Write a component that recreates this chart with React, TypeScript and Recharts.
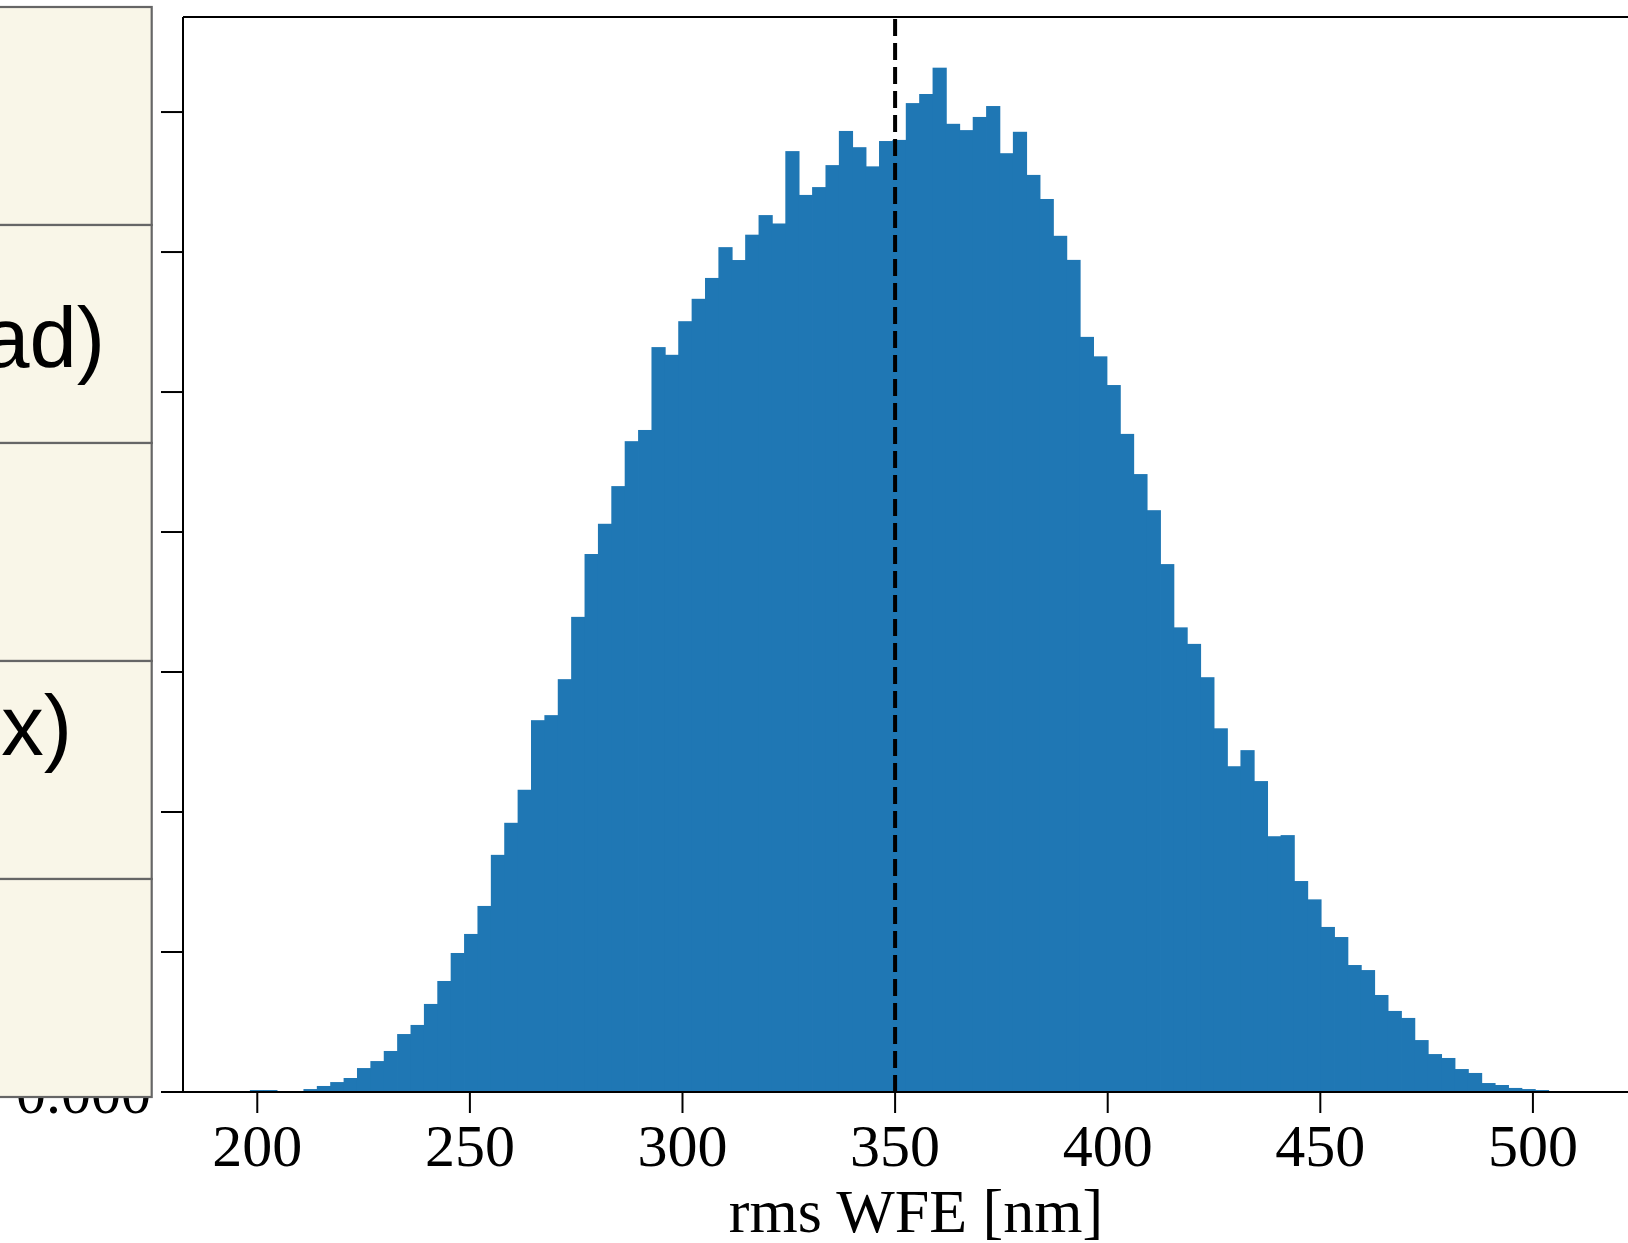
import { ComposedChart, Bar, XAxis, YAxis, ReferenceLine } from "recharts";

// Histogram of rms wavefront error, fixed-width bins
const BIN_START = 198.28; // nm, left edge of first bin
const BIN_WIDTH = 3.148; // nm

// probability density per bin, in units of 1e-3 per nm
const binDensity = [
  0.014, 0.014, 0, 0, 0.021, 0.043, 0.071, 0.1, 0.171, 0.221,
  0.293, 0.414, 0.479, 0.629, 0.793, 0.993, 1.129, 1.329, 1.694, 1.923,
  2.159, 2.656, 2.692, 2.949, 3.394, 3.843, 4.059, 4.328, 4.649, 4.729,
  5.321, 5.266, 5.506, 5.666, 5.815, 6.035, 5.943, 6.124, 6.264, 6.204,
  6.721, 6.408, 6.464, 6.621, 6.865, 6.749, 6.612, 6.793, 6.801, 7.064,
  7.129, 7.317, 6.916, 6.871, 6.965, 7.043, 6.706, 6.859, 6.551, 6.379,
  6.116, 5.944, 5.394, 5.255, 5.05, 4.701, 4.414, 4.156, 3.771, 3.319,
  3.201, 2.963, 2.598, 2.327, 2.442, 2.221, 1.827, 1.835, 1.507, 1.376,
  1.179, 1.107, 0.907, 0.871, 0.693, 0.579, 0.529, 0.371, 0.271, 0.243,
  0.164, 0.136, 0.064, 0.05, 0.029, 0.021, 0.014,
];

const xTicks = [200, 250, 300, 350, 400, 450, 500];
const yTicks = [0, 0.001, 0.002, 0.003, 0.004, 0.005, 0.006, 0.007];
const X_DOMAIN: [number, number] = [182.53, 527.3];
const Y_DOMAIN: [number, number] = [0, 0.007679];
const MEDIAN_WFE = 350;

// the side table: one label per row (only the tail ends are on the page)
const tableRows = ["", "ad)", "", "x)", ""];
const rowLabelPos = [null, { x: 105, y: 367 }, null, { x: 72, y: 755 }, null];

const CHART_W = 1650;
const CHART_H = 1243;
const PLOT = { left: 183, top: 17, right: 1649, bottom: 1092 };

const BLUE = "#1f77b4";
const SERIF = "'Liberation Serif', 'DejaVu Serif', serif";
const SANS = "'Liberation Sans', Arial, sans-serif";

const histData = binDensity.map((d, i) => ({
  x: BIN_START + (i + 0.5) * BIN_WIDTH,
  density: d / 1000,
}));

const pxPerNm = (PLOT.right - PLOT.left) / (X_DOMAIN[1] - X_DOMAIN[0]);
const barSize = BIN_WIDTH * pxPerNm;

// bars share edges, so widen each one a touch to hide the seams
const HistBar = (props: any) => {
  const { x, y, width, height } = props;
  if (!height || height <= 0) return null;
  const cx = x + width / 2;
  const w = barSize + 0.8;
  return <rect x={cx - w / 2} y={y} width={w} height={height} fill={BLUE} />;
};

const XTick = (props: any) => {
  const { x, y, payload } = props;
  return (
    <text x={x} y={y + 53} textAnchor="middle" fontSize={60} fontFamily={SERIF} fill="#000">
      {payload.value}
    </text>
  );
};

const AxisTitle = (props: any) => {
  const vb = props.viewBox || { x: 0, y: 0, width: 0 };
  return (
    <text
      x={vb.x + vb.width / 2}
      y={vb.y + 140}
      textAnchor="middle"
      fontSize={62}
      fontFamily={SERIF}
      fill="#000"
    >
      rms WFE [nm]
    </text>
  );
};

const SideTable = () => {
  const top = 7;
  const rowH = 218;
  const right = 151.7;
  return (
    <svg
      width={170}
      height={1110}
      style={{ position: "absolute", left: 0, top: 0 }}
    >
      {tableRows.map((label, i) => {
        const pos = rowLabelPos[i];
        return (
          <g key={i}>
            <rect
              x={-20}
              y={top + i * rowH}
              width={right + 20}
              height={rowH}
              fill="#f9f6e8"
              stroke="#666666"
              strokeWidth={2.2}
            />
            {label && pos ? (
              <text x={pos.x} y={pos.y} textAnchor="end" fontSize={85} fontFamily={SANS} fill="#000">
                {label}
              </text>
            ) : null}
          </g>
        );
      })}
    </svg>
  );
};

export default function App() {
  return (
    <div
      style={{
        position: "absolute",
        left: 0,
        top: 0,
        width: 1628,
        height: 1243,
        overflow: "hidden",
        background: "#fff",
      }}
    >
      <ComposedChart
        width={CHART_W}
        height={CHART_H}
        data={histData}
        margin={{ top: PLOT.top, right: CHART_W - PLOT.right, bottom: 0, left: 0 }}
        barCategoryGap={0}
        barGap={0}
      >
        <XAxis
          type="number"
          dataKey="x"
          domain={X_DOMAIN}
          ticks={xTicks}
          interval={0}
          allowDataOverflow
          height={CHART_H - PLOT.bottom}
          tickSize={21}
          tickMargin={0}
          axisLine={{ stroke: "#000", strokeWidth: 2 }}
          tickLine={{ stroke: "#000", strokeWidth: 2 }}
          tick={<XTick />}
          label={<AxisTitle />}
        />
        <YAxis
          type="number"
          domain={Y_DOMAIN}
          ticks={yTicks}
          interval={0}
          allowDataOverflow
          width={PLOT.left}
          tickSize={22}
          tickMargin={10}
          axisLine={{ stroke: "#000", strokeWidth: 2 }}
          tickLine={{ stroke: "#000", strokeWidth: 2 }}
          // labels above zero sit under the side table
          tickFormatter={(v: number) => (v === 0 ? v.toFixed(3) : "")}
          tick={{ fontSize: 60, fontFamily: SERIF, fill: "#000" }}
        />
        <Bar dataKey="density" shape={<HistBar />} barSize={barSize} isAnimationActive={false} />
        <ReferenceLine y={Y_DOMAIN[1]} stroke="#000" strokeWidth={2} />
        <ReferenceLine x={MEDIAN_WFE} stroke="#000" strokeWidth={4} strokeDasharray="17 7" />
      </ComposedChart>
      <SideTable />
    </div>
  );
}
